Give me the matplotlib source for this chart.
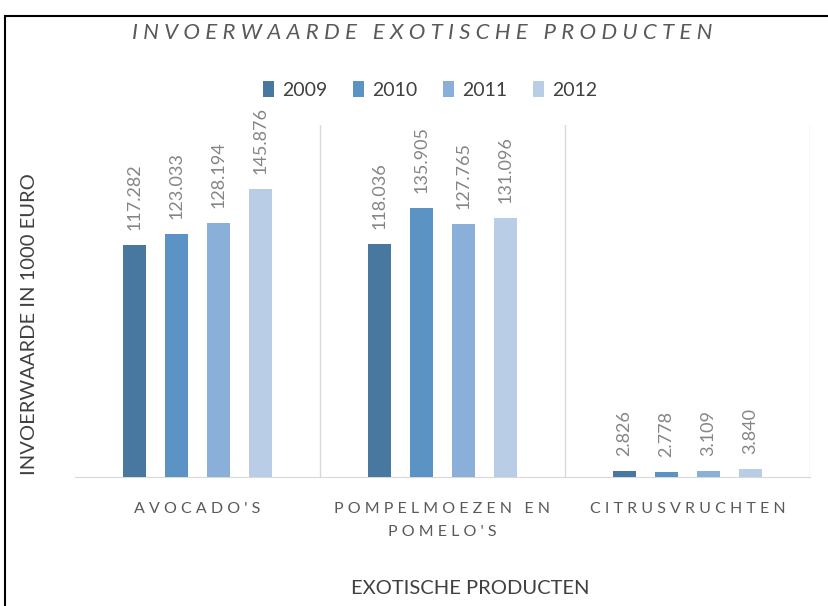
import matplotlib
matplotlib.use("Agg")
import matplotlib.pyplot as plt
import numpy as np
from matplotlib.patches import Rectangle

categories = ["A V O C A D O ' S", "P O M P E L M O E Z E N   E N\nP O M E L O ' S", "C I T R U S V R U C H T E N"]
years = ["2009", "2010", "2011", "2012"]
values = {
    "2009": [117.282, 118.036, 2.826],
    "2010": [123.033, 135.905, 2.778],
    "2011": [128.194, 127.765, 3.109],
    "2012": [145.876, 131.096, 3.840],
}
labels = {
    "2009": ["117.282", "118.036", "2.826"],
    "2010": ["123.033", "135.905", "2.778"],
    "2011": ["128.194", "127.765", "3.109"],
    "2012": ["145.876", "131.096", "3.840"],
}
colors = ["#48789F", "#5A93C4", "#8AAFD8", "#B9CDE6"]
title = "I N V O E R W A A R D E   E X O T I S C H E   P R O D U C T E N"
ylabel = "INVOERWAARDE IN 1000 EURO"
xlabel = "EXOTISCHE PRODUCTEN"

FONT = "Lato"
W, H = 829, 606
fig = plt.figure(figsize=(W / 100, H / 100), dpi=100)
ax = fig.add_axes([75 / W, 1 - 477 / H, (810 - 75) / W, (477 - 125) / H])

x = np.arange(len(categories))
step = 0.171
width = 0.094
for i, y in enumerate(years):
    pos = x + (i - 1.5) * step
    bars = ax.bar(pos, values[y], width=width, color=colors[i], label=y, zorder=3)
    for p, v, t in zip(pos, values[y], labels[y]):
        ax.annotate(t, (p, v), xytext=(0, 15), textcoords="offset pixels",
                    rotation=90, ha="center", va="bottom",
                    fontsize=13, color="#858585", family=FONT)

ax.set_xlim(-0.5, 2.5)
ax.set_ylim(0, 178)
for b in [0.5, 1.5, 2.5]:
    ax.axvline(b, color="#D9D9D9", lw=1, zorder=1)
for s in ["top", "right", "left"]:
    ax.spines[s].set_visible(False)
ax.spines["bottom"].set_color("#D9D9D9")
ax.set_yticks([])
ax.set_xticks(x)
ax.set_xticklabels(categories, family=FONT, fontsize=11.5, color="#595959", linespacing=1.8)
ax.tick_params(axis="x", length=0, pad=18)

fig.text(30 / W, 1 - 324 / H, ylabel, rotation=90, ha="center", va="center",
         fontsize=14.5, color="#404040", family=FONT)
fig.text(470 / W, 1 - 588 / H, xlabel, ha="center", va="center",
         fontsize=14.5, color="#404040", family=FONT)
fig.text(422 / W, 1 - 33 / H, title, ha="center", va="center",
         fontsize=16, color="#595959", family=FONT, style="italic")

leg = fig.legend(loc="center", bbox_to_anchor=(430 / W, 1 - 90 / H), ncol=4,
                 frameon=False, prop={"family": FONT, "size": 14},
                 handlelength=0.6, handleheight=0.9, handletextpad=0.4, columnspacing=1.3)
for t in leg.get_texts():
    t.set_color("#404040")

fig.patches.append(Rectangle((5 / W, -0.1), 2, 1 - 16 / H + 0.1,
                             transform=fig.transFigure, fill=False,
                             edgecolor="black", lw=1.5))

fig.savefig("out.png", dpi=100)
